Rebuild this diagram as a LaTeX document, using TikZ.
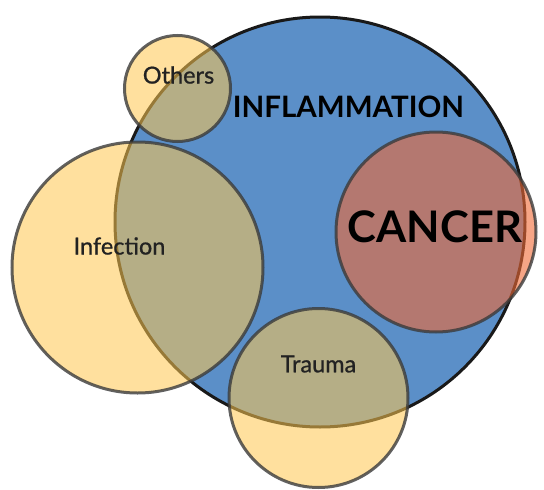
\documentclass[tikz,border=0pt]{standalone}
\usepackage{fontspec}
\setmainfont{Lato}
\definecolor{inflblue}{HTML}{5B8FC8}
\definecolor{causeyellow}{HTML}{FFC850}
\definecolor{cancerred}{HTML}{F06A36}
\definecolor{edgegray}{HTML}{3A3A3A}
\definecolor{labeltext}{HTML}{222222}
\begin{document}
\begin{tikzpicture}[x=1pt,y=-1pt,
  cause/.style={circle,draw=edgegray,draw opacity=0.8,line width=3pt,fill=causeyellow,fill opacity=0.55,inner sep=0pt},
  causelabel/.style={text=labeltext,font=\fontsize{23.5}{26}\selectfont\addfontfeatures{FakeBold=0.8},inner sep=0pt}]
\useasboundingbox (0,0) rectangle (544,490);
\fill[white] (0,0) rectangle (544,490);
% inflammation
\node[circle,draw=black!90,line width=3pt,fill=inflblue,minimum size=410pt,inner sep=0pt] (infl) at (320,222) {};
% cancer
\node[circle,draw=edgegray,draw opacity=0.8,line width=3pt,fill=cancerred,fill opacity=0.6,minimum size=200pt,inner sep=0pt] (cancer) at (436,232) {};
% causes
\node[cause,minimum size=106pt] (others) at (177.5,88.5) {};
\node[cause,minimum size=251pt] (infection) at (137.5,267.5) {};
\node[cause,minimum size=179pt] (trauma) at (318.5,398) {};
% labels
\node[font=\fontsize{29.5}{32}\selectfont\bfseries,text=black,inner sep=0pt] (infltext) at (348.5,107) {INFLAMMATION};
\node[font=\fontsize{43.5}{48}\selectfont\bfseries,text=black,inner sep=0pt] (cancertext) at (435,227) {CANCER};
\node[causelabel] (otherstext) at (178.5,75) {Others};
\node[causelabel] (infectiontext) at (119.5,246) {Infection};
\node[causelabel] (traumatext) at (318.5,364) {Trauma};
\end{tikzpicture}
\end{document}
